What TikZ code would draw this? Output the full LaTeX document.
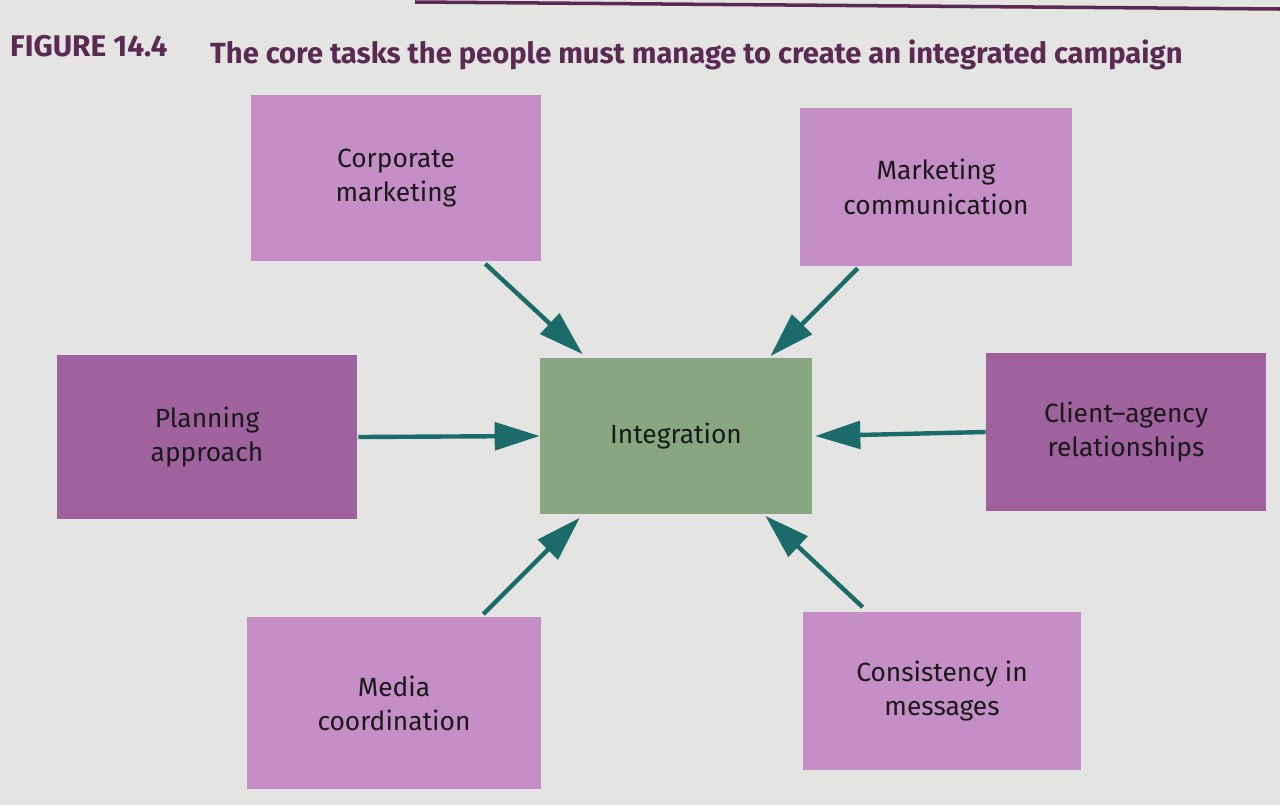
\documentclass[tikz,border=0pt]{standalone}
\usepackage{fontspec}
\setmainfont{Fira Sans}
\usetikzlibrary{arrows.meta,calc}

\definecolor{pagegray}{HTML}{E4E4E2}
\definecolor{lightplum}{HTML}{C68EC6}
\definecolor{darkplum}{HTML}{A0629E}
\definecolor{sage}{HTML}{88A67F}
\definecolor{teal}{HTML}{1B6B6A}
\definecolor{titleplum}{HTML}{5A2A52}

\begin{document}
\begin{tikzpicture}[x=0.02cm, y=-0.02cm]

    \tikzset{block/.style={%
      rectangle,%
      draw=none,%
      align=center,%
      text=black!90,%
      font=\fontsize{15pt}{19.5pt}\selectfont}%
    };

    \tikzset{lightblock/.style={block, fill=lightplum}};
    \tikzset{darkblock/.style={block, fill=darkplum}};
    \tikzset{coreblock/.style={block, fill=sage, minimum width=5.44cm, minimum height=3.14cm}};
    \tikzset{link/.style={draw=teal, line width=2.5pt, -{Triangle[length=0.9cm, width=0.55cm]}}};

    %%%%%%%%%%%%%%%
    %    page     %
    %%%%%%%%%%%%%%%
    \fill [pagegray] (0,0) rectangle (1280,805);
    \useasboundingbox (0,0) rectangle (1280,805);
    \draw [titleplum, line width=2pt] (415,2) -- (1280,9);

    \node [anchor=west, text=titleplum, font=\fontsize{17pt}{20pt}\selectfont\bfseries] (fig) at (4,46) {FIGURE 14.4};
    \node [anchor=west, text=titleplum, font=\fontsize{16.6pt}{20pt}\selectfont\bfseries] (title) at (204,55)
      {The core tasks the people must manage to create an integrated campaign};

    %%%%%%%%%%%%%%%
    %   blocks    %
    %%%%%%%%%%%%%%%
    \node [lightblock, minimum width=5.8cm, minimum height=3.34cm] (corp) at (396,178) {Corporate\\marketing};
    \node [lightblock, minimum width=5.44cm, minimum height=3.16cm] (mcom) at (936,187) {Marketing\\communication};
    \node [darkblock, minimum width=6.0cm, minimum height=3.3cm] (plan) at (207,437) {Planning\\approach};
    \node [coreblock] (integ) at (676,436) {Integration};
    \node [darkblock, minimum width=5.6cm, minimum height=3.18cm] (client) at (1126,432) {Client--agency\\relationships};
    \node [lightblock, minimum width=5.88cm, minimum height=3.46cm] (media) at (394,703) {Media\\coordination};
    \node [lightblock, minimum width=5.56cm, minimum height=3.18cm] (cons) at (942,691) {Consistency in\\messages};

    \draw [link] ($(corp.south east)+(-56,2)$) -- ($(integ.north west)+(43,-3)$);
    \draw [link] ($(mcom.south west)+(58,2)$) -- ($(integ.north east)+(-42,-1)$);
    \draw [link] ($(plan.east)+(1,0)$) -- (integ.west);
    \draw [link] (client.west) -- ($(integ.east)+(3,0)$);
    \draw [link] ($(media.north east)+(-58,-2)$) -- ($(integ.south west)+(40,3)$);
    \draw [link] ($(cons.north west)+(60,-4)$) -- ($(integ.south east)+(-47,1)$);

  \end{tikzpicture}
\end{document}
